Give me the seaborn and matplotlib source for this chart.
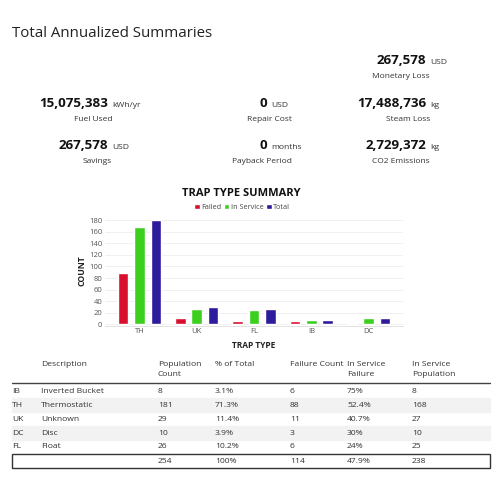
import matplotlib
matplotlib.use("Agg")
import matplotlib.pyplot as plt
import matplotlib.patches as mpatches
import pandas as pd
import seaborn as sns

# datos del gráfico
tipos = ["TH", "UK", "FL", "IB", "DC"]
fallados = [88, 11, 6, 6, 3]
en_servicio = [168, 27, 25, 8, 10]
totales = [181, 29, 26, 8, 10]
series = ["Failed", "In Service", "Total"]
colores = ["#d9102d", "#3ccf1e", "#2d1c9c"]

# resumen
resumen = [
    ("267,578", "USD", "Monetary Loss"),
    ("15,075,383", "kWh/yr", "Fuel Used"),
    ("0", "USD", "Repair Cost"),
    ("17,488,736", "kg", "Steam Loss"),
    ("267,578", "USD", "Savings"),
    ("0", "months", "Payback Period"),
    ("2,729,372", "kg", "CO2 Emissions"),
]

# tabla
cabecera = ["", "Description", "Population\nCount", "% of Total",
            "Failure Count", "In Service\nFailure", "In Service\nPopulation"]
codigos = ["IB", "TH", "UK", "DC", "FL"]
descripciones = ["Inverted Bucket", "Thermostatic", "Unknown", "Disc", "Float"]
poblacion = ["8", "181", "29", "10", "26"]
porcentaje = ["3.1%", "71.3%", "11.4%", "3.9%", "10.2%"]
fallos = ["6", "88", "11", "3", "6"]
fallo_servicio = ["75%", "52.4%", "40.7%", "30%", "24%"]
pobl_servicio = ["8", "168", "27", "10", "25"]
fila_total = ["", "", "254", "100%", "114", "47.9%", "238"]

W, H = 499, 490


def fx(x):
    return x / W


def fy(y):
    return 1 - y / H


sns.set_theme(style="whitegrid")
plt.rcParams["font.family"] = ["Open Sans", "DejaVu Sans"]

fig = plt.figure(figsize=(W / 100, H / 100), dpi=100)
fig.patch.set_facecolor("white")

# titulo
fig.text(fx(12), fy(37), "Total Annualized Summaries", fontsize=10.8,
         color="#222222", va="baseline", ha="left")

# posiciones de los bloques del resumen (valor derecho, etiqueta derecha, y)
pos = [(426, 430, 64, 78), (108, 112, 107, 121), (267, 292, 107, 121),
       (426, 430, 107, 121), (108, 112, 149, 163), (267, 292, 149, 163),
       (426, 430, 149, 163)]
for (valor, unidad, etiqueta), (xv, xl, yv, yl) in zip(resumen, pos):
    fig.text(fx(xv), fy(yv), valor, fontsize=9.6, fontweight="bold",
             color="#111111", ha="right", va="baseline")
    fig.text(fx(xv + 4), fy(yv), unidad, fontsize=6.1, color="#333333",
             ha="left", va="baseline")
    fig.text(fx(xl), fy(yl), etiqueta, fontsize=6.0, color="#333333",
             ha="right", va="baseline")

# grafico de barras
df = pd.DataFrame({"Tipo": tipos, "Failed": fallados,
                   "In Service": en_servicio, "Total": totales})
df_largo = df.melt(id_vars="Tipo", var_name="Serie", value_name="Cantidad")

ax = fig.add_axes([fx(105), fy(325.7), fx(403) - fx(105), fy(215) - fy(325.7)])
sns.barplot(data=df_largo, x="Tipo", y="Cantidad", hue="Serie",
            hue_order=series, palette=colores, order=tipos,
            width=0.86, gap=0.36, saturation=1, ax=ax)
ax.set_facecolor("white")
ax.set_xlim(-0.6, 4.6)
ax.set_ylim(-2.5, 189)
ax.set_yticks(range(0, 181, 20))
ax.grid(axis="y", color="#eeeeee", linewidth=0.6)
ax.grid(axis="x", visible=False)
for lado in ["top", "right", "left"]:
    ax.spines[lado].set_visible(False)
ax.spines["bottom"].set_color("#dddddd")
ax.spines["bottom"].set_linewidth(0.6)
ax.tick_params(axis="both", labelsize=5.5, colors="#555555", length=0, pad=2)
ax.set_xlabel("TRAP TYPE", fontsize=6, fontweight="bold", color="#222222",
              labelpad=4)
ax.set_ylabel("COUNT", fontsize=6.2, fontweight="bold", color="#222222",
              labelpad=2)
ax.set_title("TRAP TYPE SUMMARY", fontsize=8.0, fontweight="bold",
             color="#111111", pad=14, x=0.458)
ax.legend(loc="lower center", bbox_to_anchor=(0.46, 1.01), ncol=3,
          frameon=False, fontsize=5.2, handlelength=0.8, handleheight=0.8,
          handletextpad=0.2, columnspacing=0.3, borderaxespad=0,
          labelcolor="#444444")

# tabla
cols_x = [12, 41, 158, 215, 290, 347, 412]
for x, texto in zip(cols_x, cabecera):
    fig.text(fx(x), fy(361.5), texto, fontsize=6.1, color="#333333",
             ha="left", va="top", linespacing=1.4)
fig.add_artist(plt.Line2D([fx(12), fx(490)], [fy(383), fy(383)],
                          color="#444444", linewidth=1.0))

filas = list(zip(codigos, descripciones, poblacion, porcentaje, fallos,
                 fallo_servicio, pobl_servicio))
alto = 14
for i, fila in enumerate(filas):
    yc = 391 + i * alto
    if i % 2 == 1:
        fig.add_artist(mpatches.Rectangle((fx(12), fy(yc + 7)),
                                          fx(490) - fx(12), alto / H,
                                          color="#f2f2f2", zorder=0))
    for x, texto in zip(cols_x, fila):
        fig.text(fx(x), fy(yc), texto, fontsize=6.1, color="#333333",
                 ha="left", va="center")

yt = 391 + 5 * alto
fig.add_artist(mpatches.Rectangle((fx(12), fy(yt + 7)), fx(490) - fx(12),
                                  alto / H, fill=False, edgecolor="#333333",
                                  linewidth=1.0))
for x, texto in zip(cols_x, fila_total):
    fig.text(fx(x), fy(yt), texto, fontsize=6.1, color="#333333",
             ha="left", va="center")

fig.savefig("out.png", dpi=100, facecolor="white")
